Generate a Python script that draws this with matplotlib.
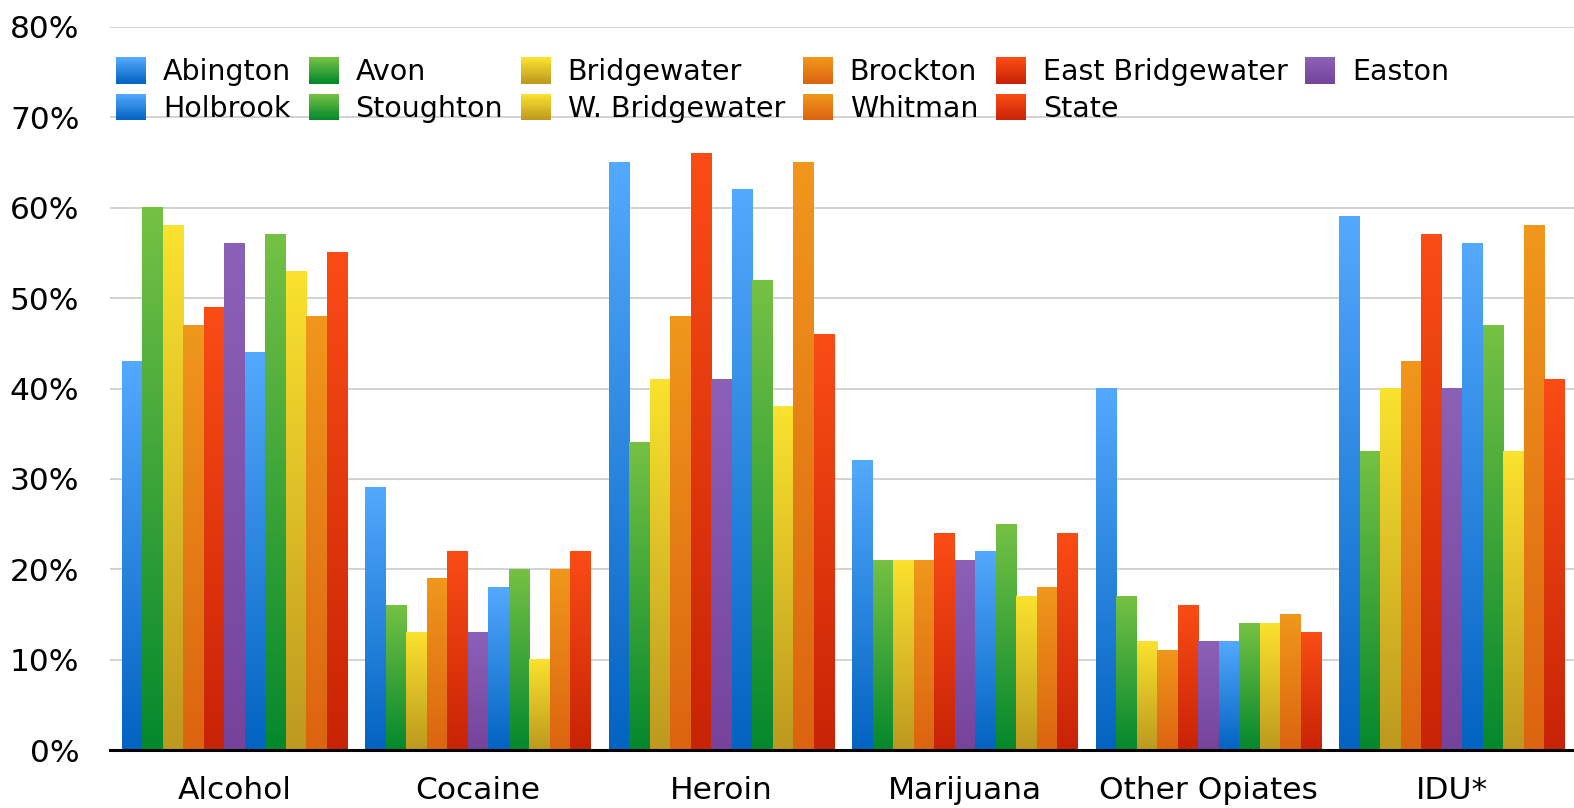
import numpy as np
import matplotlib
matplotlib.use("Agg")
import matplotlib.pyplot as plt
from matplotlib.colors import LinearSegmentedColormap, to_rgb
from matplotlib.legend_handler import HandlerBase
from matplotlib.patches import Patch, Rectangle

# --- data (percent) ---
categories = ["Alcohol", "Cocaine", "Heroin", "Marijuana", "Other Opiates", "IDU*"]
towns = ["Abington", "Avon", "Bridgewater", "Brockton", "East Bridgewater", "Easton",
         "Holbrook", "Stoughton", "W. Bridgewater", "Whitman", "State"]

abington = [43, 29, 65, 32, 40, 59]
avon = [60, 16, 34, 21, 17, 33]
bridgewater = [58, 13, 41, 21, 12, 40]
brockton = [47, 19, 48, 21, 11, 43]
east_bridgewater = [49, 22, 66, 24, 16, 57]
easton = [56, 13, 41, 21, 12, 40]
holbrook = [44, 18, 62, 22, 12, 56]
stoughton = [57, 20, 52, 25, 14, 47]
w_bridgewater = [53, 10, 38, 17, 14, 33]
whitman = [48, 20, 65, 18, 15, 58]
state = [55, 22, 46, 24, 13, 41]

series = [abington, avon, bridgewater, brockton, east_bridgewater, easton,
          holbrook, stoughton, w_bridgewater, whitman, state]

# gradient colours (top, bottom)
blue = ("#53A9FD", "#0363C1")
green = ("#75C144", "#04882D")
yellow = ("#FAE22E", "#BD991F")
orange = ("#F0971C", "#DC6410")
red = ("#FA4C15", "#C82306")
purple = ("#8B61B7", "#76439B")
grads = [blue, green, yellow, orange, red, purple, blue, green, yellow, orange, red]

fig = plt.figure(figsize=(15.74, 8.08), dpi=100)
ax = fig.add_axes([110 / 1574, 1 - 750 / 808, 1 - 110 / 1574, 723 / 808])

n = len(series)
group = 0.926
w = group / n
x = np.arange(len(categories))
grad_img = np.linspace(0, 1, 256).reshape(-1, 1)

for i, vals in enumerate(series):
    top, bot = grads[i]
    cmap = LinearSegmentedColormap.from_list(towns[i], [bot, top])
    for j, v in enumerate(vals):
        x0 = x[j] - group / 2 + i * w
        ax.imshow(grad_img, cmap=cmap, origin="lower", aspect="auto",
                  extent=(x0, x0 + w, 0, v), interpolation="bilinear", zorder=2)

ax.set_xlim(-0.512, 5.5)
ax.set_ylim(0, 80)
ax.set_yticks(np.arange(0, 81, 10))
ax.set_yticklabels([f"{t}%" for t in range(0, 81, 10)])
ax.set_xticks(x)
ax.set_xticklabels(categories)
ax.tick_params(axis="both", length=0, labelsize=22.5, colors="black")
ax.tick_params(axis="y", pad=22)
ax.tick_params(axis="x", pad=19)
ax.grid(axis="y", color="#CFCFCF", linewidth=1.3, zorder=0)
ax.set_axisbelow(True)
for s in ["top", "right", "left"]:
    ax.spines[s].set_visible(False)
ax.spines["bottom"].set_linewidth(2.2)
ax.spines["bottom"].set_zorder(5)


class GradHandler(HandlerBase):
    def create_artists(self, legend, orig_handle, xdescent, ydescent,
                       width, height, fontsize, trans):
        top = np.array(to_rgb(orig_handle.get_facecolor()))
        bot = np.array(to_rgb(orig_handle.get_edgecolor()))
        steps = 24
        arts = []
        for k in range(steps):
            f = k / (steps - 1)
            c = bot * (1 - f) + top * f
            r = Rectangle((-xdescent, -ydescent + height * k / steps), width,
                          height / steps * 1.05, facecolor=c, edgecolor="none",
                          transform=trans)
            arts.append(r)
        return arts


# legend laid out column-wise: 6 columns, 2 rows
order = [0, 6, 1, 7, 2, 8, 3, 9, 4, 10, 5]
handles = [Patch(facecolor=grads[k][0], edgecolor=grads[k][1], label=towns[k]) for k in order]
leg = ax.legend(handles=handles, ncol=6, loc="upper left",
                bbox_to_anchor=(0.004, 0.958), frameon=False, fontsize=20.5,
                handlelength=1.05, handleheight=1.05, handletextpad=0.6,
                columnspacing=0.62, labelspacing=0.26, borderpad=0, borderaxespad=0,
                handler_map={Patch: GradHandler()})

fig.savefig("out.png", dpi=100)
